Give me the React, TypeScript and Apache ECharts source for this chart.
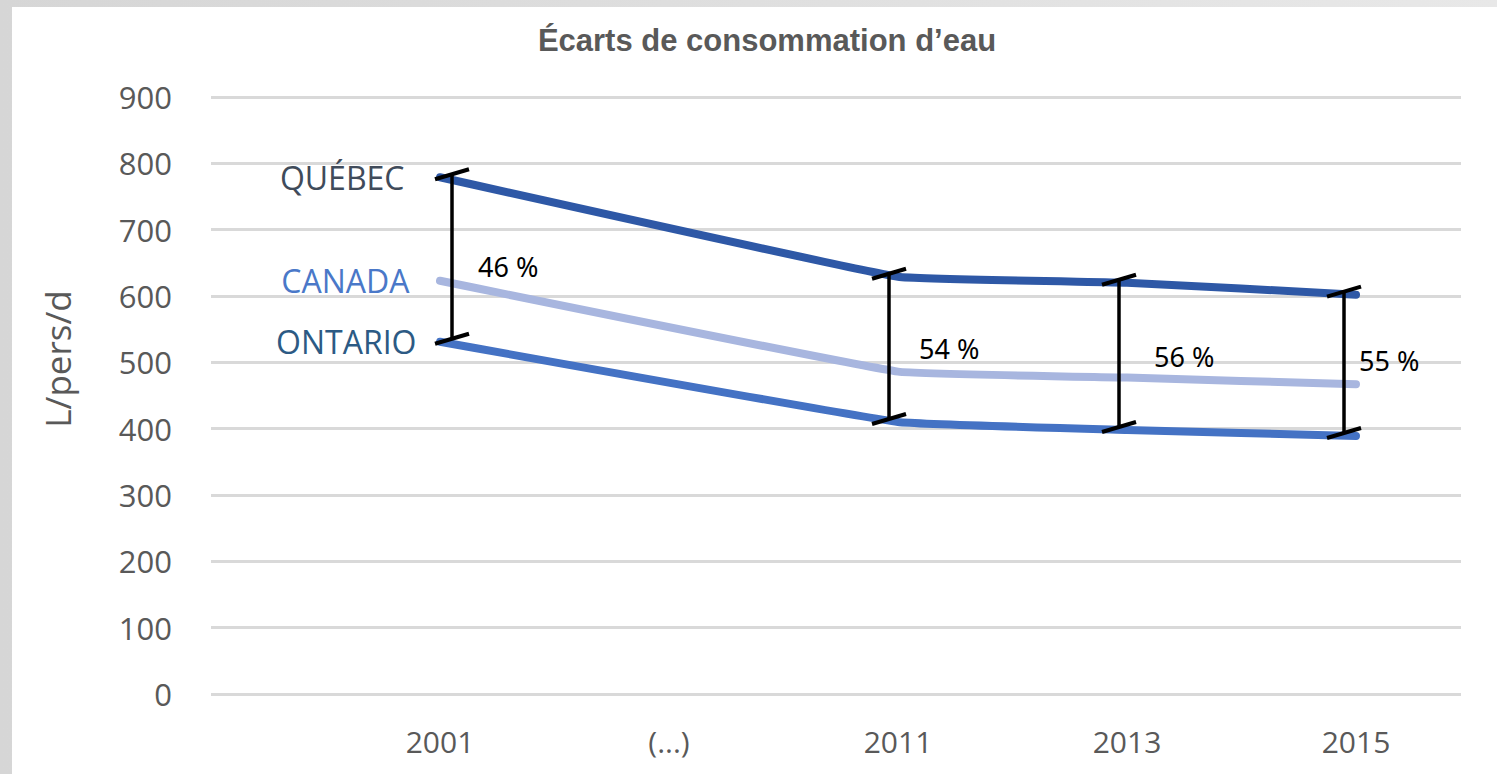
import React, { useEffect, useRef } from "react";
import * as echarts from "echarts";

// ---- Data ----
const categories = ["2001", "(...)", "2011", "2013", "2015"];
const quebec: (number | null)[] = [779, null, 629, 620, 602];
const canada: (number | null)[] = [623, null, 486, 477, 467];
const ontario: (number | null)[] = [531, null, 410, 398, 389];
const gapPercent: (number | null)[] = [46, null, 54, 56, 55];
const seriesNames = ["QUÉBEC", "CANADA", "ONTARIO"];
const titleText = "Écarts de consommation d’eau";
const yAxisTitle = "L/pers/d";

// ---- Styling constants (pixel nudges of the hand-drawn brackets) ----
const bracketShift = [12, 0, -9, -8, -12];
const pctShift: [number, number][] = [[26, 10], [0, 0], [30, 2], [35, 3], [15, -2]];
const labelDistance = [35, 30, 23];

const GREY = "#595959";
const FONT = "'Open Sans', 'Noto Sans', sans-serif";

function toPoints(arr: (number | null)[]) {
  const out: [number, number][] = [];
  arr.forEach((v, i) => {
    if (v !== null) out.push([i, v]);
  });
  return out;
}

export default function App() {
  const ref = useRef<HTMLDivElement>(null);

  useEffect(() => {
    if (!ref.current) return;
    const chart = echarts.init(ref.current, undefined, { renderer: "svg" });

    const lineColors = ["#2e58a6", "#a8b6df", "#4472c4"];
    const labelColors = ["#404b5a", "#4a78c8", "#2c5a84"];
    const datasets = [quebec, canada, ontario];

    const lineSeries = datasets.map((arr, s) => ({
      type: "line",
      name: seriesNames[s],
      z: 3,
      data: toPoints(arr).map((p, k) =>
        k === 0
          ? {
              value: p,
              label: {
                show: true,
                formatter: seriesNames[s],
                position: "left",
                distance: labelDistance[s],
                color: labelColors[s],
                fontFamily: FONT,
                fontSize: 32,
              },
            }
          : { value: p }
      ),
      showSymbol: true,
      symbol: "circle",
      symbolSize: 1,
      itemStyle: { color: lineColors[s] },
      lineStyle: { color: lineColors[s], width: 8, cap: "round", join: "round" },
      smooth: 0.08,
      label: { show: false },
      emphasis: { disabled: true },
    }));

    const bracketData = categories
      .map((_, i) => [i, quebec[i], ontario[i], gapPercent[i]])
      .filter((d) => d[1] !== null && d[2] !== null && d[3] !== null);

    const bracketSeries = {
      type: "custom",
      z: 10,
      clip: false,
      encode: { x: 0, y: [1, 2] },
      data: bracketData,
      renderItem: (params: any, api: any) => {
        const idx = api.value(0);
        const top = api.coord([idx, api.value(1)]);
        const bot = api.coord([idx, api.value(2)]);
        const x = top[0] + bracketShift[idx];
        const yt = top[1] - 3;
        const yb = bot[1] - 3;
        const st = { stroke: "#000", lineWidth: 3.5, lineCap: "butt" };
        const sh = pctShift[idx];
        return {
          type: "group",
          children: [
            { type: "line", shape: { x1: x, y1: yt, x2: x, y2: yb }, style: st },
            { type: "line", shape: { x1: x - 17, y1: yt + 5, x2: x + 17, y2: yt - 5 }, style: { ...st, lineWidth: 4 } },
            { type: "line", shape: { x1: x - 17, y1: yb + 5, x2: x + 17, y2: yb - 5 }, style: { ...st, lineWidth: 4 } },
            {
              type: "text",
              style: {
                text: api.value(3) + " %",
                x: x + sh[0],
                y: (yt + yb) / 2 + sh[1],
                fill: "#000",
                fontSize: 27,
                fontFamily: "'Noto Sans', 'Lato', sans-serif",
                align: "left",
                verticalAlign: "middle",
              },
            },
          ],
        };
      },
    };

    chart.setOption({
      animation: false,
      title: {
        text: titleText,
        left: 762,
        top: 20,
        textAlign: "center",
        textStyle: {
          color: GREY,
          fontFamily: "'Liberation Sans', Arial, sans-serif",
          fontWeight: "bold",
          fontSize: 31,
        },
      },
      grid: { left: 211, right: 36, top: 97, bottom: 80 },
      xAxis: {
        type: "value",
        min: -1,
        max: 4.4585,
        interval: 1,
        axisLine: { show: false },
        axisTick: { show: false },
        splitLine: { show: false },
        axisLabel: {
          margin: 32,
          color: GREY,
          fontFamily: FONT,
          fontSize: 30,
          showMinLabel: false,
          formatter: (v: number) =>
            Number.isInteger(v) && v >= 0 && v < categories.length ? categories[v] : "",
        },
      },
      yAxis: {
        type: "value",
        min: 0,
        max: 900,
        interval: 100,
        axisLine: { show: false },
        axisTick: { show: false },
        axisLabel: { margin: 39, color: GREY, fontFamily: FONT, fontSize: 31 },
        splitLine: { lineStyle: { color: "#d9d9d9", width: 3 } },
      },
      graphic: [
        {
          type: "text",
          x: 57,
          y: 359,
          rotation: Math.PI / 2,
          style: {
            text: yAxisTitle,
            fill: GREY,
            fontFamily: FONT,
            fontSize: 35,
            align: "center",
            verticalAlign: "middle",
          },
        },
      ],
      series: [...lineSeries, bracketSeries],
    });

    return () => chart.dispose();
  }, []);

  return (
    <div
      style={{
        position: "fixed",
        left: 0,
        top: 0,
        width: 1497,
        height: 774,
        background: "linear-gradient(to right, #d6d6d6, #e8e8e8)",
      }}
    >
      <div
        style={{ position: "absolute", left: 12, top: 7, right: 0, bottom: 0, background: "#fff" }}
      />
      <div ref={ref} style={{ position: "absolute", left: 0, top: 0, width: 1497, height: 774 }} />
    </div>
  );
}
